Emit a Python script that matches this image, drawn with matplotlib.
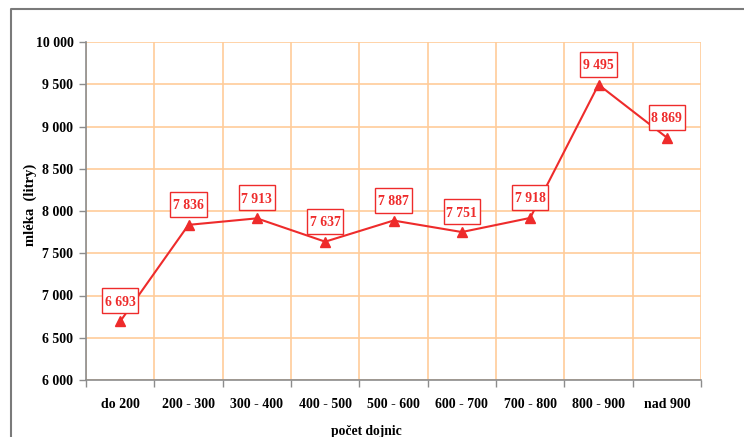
import matplotlib
matplotlib.use("Agg")
import matplotlib.pyplot as plt
from matplotlib.lines import Line2D
from matplotlib.patches import Rectangle
from matplotlib.transforms import ScaledTranslation
from matplotlib.ticker import FixedLocator, FuncFormatter

categories = ["do 200", "200 - 300", "300 - 400", "400 - 500", "500 - 600",
              "600 - 700", "700 - 800", "800 - 900", "nad 900"]
milk = [6693, 7836, 7913, 7637, 7887, 7751, 7918, 9495, 8869]
y_ticks = [6000, 6500, 7000, 7500, 8000, 8500, 9000, 9500, 10000]

RED = "#EE2B2B"
GRID = "#FFCC99"
AXIS = "#8C8C8C"
SERIF = ["Liberation Serif", "DejaVu Serif"]


def fmt_thousands(v, _pos=None):
    return f"{int(round(v)):,}".replace(",", " ")


fig = plt.figure(figsize=(7.44, 4.37), dpi=100)
ax = fig.add_axes([86 / 744, 57 / 437, 615 / 744, 338 / 437])

n = len(categories)
x = list(range(n))
ax.set_xlim(-0.5, n - 0.5)
ax.set_ylim(y_ticks[0], y_ticks[-1])

# Grid lines at category boundaries and every 500 litres
ax.xaxis.set_major_locator(FixedLocator([i - 0.5 for i in range(n + 1)]))
ax.xaxis.set_minor_locator(FixedLocator(x))
ax.set_xticklabels([])
ax.set_xticklabels(categories, minor=True)
ax.yaxis.set_major_locator(FixedLocator(y_ticks))
ax.yaxis.set_major_formatter(FuncFormatter(fmt_thousands))
ax.grid(True, which="major", color=GRID, linewidth=1.2, zorder=0)
ax.set_axisbelow(True)

for side in ("top", "right"):
    ax.spines[side].set_visible(False)
for side in ("left", "bottom"):
    ax.spines[side].set_color(AXIS)
    ax.spines[side].set_linewidth(1.2)

ax.tick_params(axis="x", which="major", direction="out", length=5, color=AXIS, width=1)
ax.tick_params(axis="x", which="minor", length=0, pad=13)
ax.tick_params(axis="y", which="major", direction="out", length=5, color=AXIS, width=1, pad=4)
for lab in ax.get_xticklabels(minor=True) + ax.get_yticklabels():
    lab.set_fontfamily(SERIF)
    lab.set_fontweight("bold")
    lab.set_fontsize(10)

ax.plot(x, milk, color=RED, linewidth=1.5, marker="^", markersize=7,
        markerfacecolor=RED, markeredgecolor=RED, zorder=3, clip_on=False)

# Value labels in white boxes above each point (box size in inches)
box_w, box_h, lift = 0.366, 0.25, 0.205
for xi, v in zip(x, milk):
    anchor = fig.dpi_scale_trans + ScaledTranslation(xi, v, ax.transData)
    ax.add_patch(Rectangle((-box_w / 2, lift - box_h / 2), box_w, box_h,
                           transform=anchor, facecolor="white", edgecolor=RED,
                           linewidth=1, zorder=4, clip_on=False))
    ax.text(0, lift, fmt_thousands(v), transform=anchor, ha="center", va="center_baseline",
            color=RED, fontsize=9.8, fontweight="bold", family=SERIF, zorder=5)

fig.text(30 / 744, 1 - 205 / 437, "mléka  (litry)", rotation=90, ha="center", va="center",
         family=SERIF, fontweight="bold", fontsize=10.5)
fig.text(366 / 744, 1 - 431 / 437, "počet dojnic", ha="center", va="center",
         family=SERIF, fontweight="bold", fontsize=9.8)

# Outer frame (left and top edges)
fig.add_artist(Line2D([10.5 / 744, 10.5 / 744, 1.0], [0.0, 1 - 8.5 / 437, 1 - 8.5 / 437],
                      transform=fig.transFigure, color="#7A7A7A", linewidth=1.5))

fig.savefig("out.png", dpi=100)
